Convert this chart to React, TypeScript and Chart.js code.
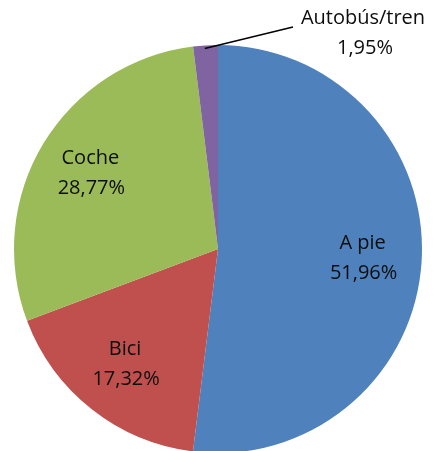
import React, { useEffect, useRef } from "react";
import { Chart, registerables } from "chart.js";

Chart.register(...registerables);

const categories = ["A pie", "Bici", "Coche", "Autobús/tren"];
const values = [51.96, 17.32, 28.77, 1.95];
const valueLabels = ["51,96%", "17,32%", "28,77%", "1,95%"];
const colors = ["#4F81BD", "#C0504D", "#9BBB59", "#8064A2"];

const FONT = "20px 'Open Sans', Lato, sans-serif";

const labelPlugin = {
  id: "sliceLabels",
  afterDatasetsDraw(chart: any) {
    const ctx = chart.ctx;
    const meta = chart.getDatasetMeta(0);
    ctx.save();
    ctx.font = FONT;
    ctx.fillStyle = "#0d0d0d";
    ctx.textAlign = "center";
    ctx.textBaseline = "middle";
    meta.data.forEach((arc: any, i: number) => {
      const { x, y, startAngle, endAngle, outerRadius } = arc.getProps(
        ["x", "y", "startAngle", "endAngle", "outerRadius"],
        true
      );
      const mid = (startAngle + endAngle) / 2;
      if (i === 3) {
        // outside label with leader line
        const ex = x + Math.cos(mid) * outerRadius * 0.98 - 1;
        const ey = y + Math.sin(mid) * outerRadius * 0.98 - 1;
        const lx = x + 75;
        const ly = y - 222;
        ctx.strokeStyle = "#000";
        ctx.lineWidth = 1.4;
        ctx.beginPath();
        ctx.moveTo(ex, ey);
        ctx.lineTo(lx, ly);
        ctx.stroke();
        ctx.fillText(categories[i], lx + 70, ly - 9);
        ctx.fillText(valueLabels[i], lx + 72, ly + 21);
      } else {
        const r = outerRadius * 0.72;
        const cx = x + Math.cos(mid) * r;
        const cy = y + Math.sin(mid) * r;
        ctx.fillText(categories[i], cx - 2, cy - 15);
        ctx.fillText(valueLabels[i], cx - 1, cy + 15);
      }
    });
    ctx.restore();
  },
};

export default function App() {
  const ref = useRef<HTMLCanvasElement | null>(null);
  useEffect(() => {
    if (!ref.current) return;
    const chart = new Chart(ref.current, {
      type: "pie",
      data: {
        labels: categories,
        datasets: [
          {
            data: values,
            backgroundColor: colors,
            borderWidth: 0,
          },
        ],
      },
      options: {
        responsive: false,
        animation: false,
        layout: { padding: { left: 14, right: 15, top: 45, bottom: 7 } },
        plugins: {
          legend: { display: false },
          tooltip: { enabled: false },
        },
      },
      plugins: [labelPlugin],
    });
    return () => chart.destroy();
  }, []);
  return (
    <div
      style={{
        position: "fixed",
        left: 0,
        top: 0,
        width: 437,
        height: 451,
        overflow: "hidden",
        background: "#fff",
      }}
    >
      <canvas ref={ref} width={437} height={460} style={{ display: "block" }} />
    </div>
  );
}
